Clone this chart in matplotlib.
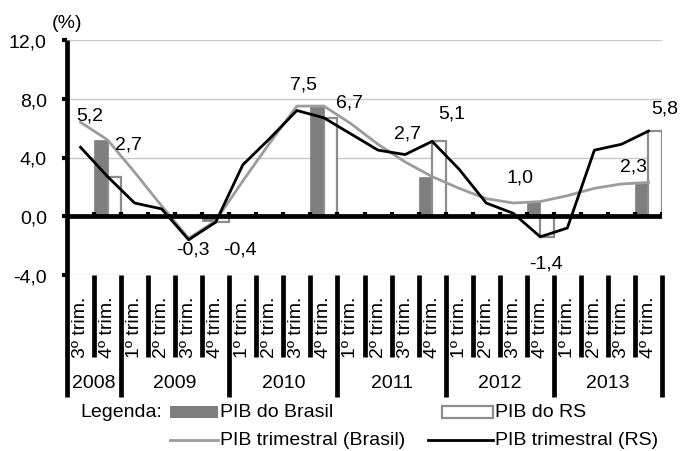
import numpy as np
import matplotlib
matplotlib.use("Agg")
import matplotlib.pyplot as plt
from matplotlib.transforms import blended_transform_factory
from matplotlib.lines import Line2D
from matplotlib.patches import Rectangle

plt.rcParams['font.family'] = ['Liberation Sans', 'DejaVu Sans']

# ---- data -------------------------------------------------------------
quarters = ["3º trim.", "4º trim."] + ["1º trim.", "2º trim.", "3º trim.", "4º trim."] * 5
years = ["2008", "2009", "2010", "2011", "2012", "2013"]
quarters_per_year = [2, 4, 4, 4, 4, 4]

# accumulated four-quarter growth (%)
pib_trim_brasil = [6.4, 5.2, 3.0, 0.7, -1.5, -0.3, 2.4, 5.0, 7.5, 7.5, 6.3, 4.9,
                   3.7, 2.7, 1.9, 1.2, 0.9, 1.0, 1.4, 1.9, 2.2, 2.3]
pib_trim_rs = [4.7, 2.7, 0.9, 0.5, -1.6, -0.4, 3.5, 5.3, 7.2, 6.7, 5.6, 4.5,
               4.2, 5.1, 3.2, 0.9, 0.2, -1.4, -0.8, 4.5, 4.9, 5.8]

# annual growth (%), shown in the 4th quarter of each year
pib_anual_brasil = [5.2, -0.3, 7.5, 2.7, 1.0, 2.3]
pib_anual_rs = [2.7, -0.4, 6.7, 5.1, -1.4, 5.8]

# value label placement (category units, %)
label_pos_brasil = [(0.85, 6.9), (4.66, -2.2), (8.76, 9.0), (12.6, 5.7), (16.75, 2.7), (20.96, 3.4)]
label_pos_rs = [(2.26, 4.95), (6.4, -2.2), (10.46, 7.75), (14.23, 7.05), (17.7, -3.2), (22.1, 7.35)]

# ---- styling ------------------------------------------------------------
W, H = 680, 452
FS = 14
BAR_FILL = '#7f7f7f'
BAR_EDGE = '#8c8c8c'
LINE_BR = '#9c9c9c'
GRID = '#c8c8c8'
AX_LW = 3.4


def fx(px):
    return px / W


def fy(py):
    return 1 - py / H


def fmt(v):
    return f"{v:.1f}".replace('.', ',')


fig = plt.figure(figsize=(W / 100, H / 100), dpi=100)
ax = fig.add_axes([fx(67), fy(276), fx(662) - fx(67), fy(41) - fy(276)])
n = len(quarters)
ax.set_xlim(0, n)
ax.set_ylim(-4, 12)
for s in ax.spines.values():
    s.set_visible(False)

x = np.arange(n) + 0.5

# gridlines and zero axis
ax.hlines([-4, 4, 8, 12], 0, n, color=GRID, lw=1, zorder=0)
ax.axhline(0, color='black', lw=AX_LW, zorder=5, solid_capstyle='butt')
ax.vlines(np.arange(1, n + 1), 0, 0.3, color='black', lw=3, zorder=5)

# annual bars in the last quarter of each year
year_end = np.cumsum(quarters_per_year) - 1
ax.bar(x[year_end] - 0.25, pib_anual_brasil, width=0.5, color=BAR_FILL,
       edgecolor=BAR_FILL, lw=0.5, zorder=2)
ax.bar(x[year_end] + 0.25, pib_anual_rs, width=0.5, facecolor='white',
       edgecolor=BAR_EDGE, lw=1.6, zorder=2)

# quarterly lines
ax.plot(x, pib_trim_brasil, color=LINE_BR, lw=2.0, zorder=3)
ax.plot(x, pib_trim_rs, color='black', lw=2.0, zorder=4)

# value labels
for (lx, ly), v in zip(label_pos_brasil, pib_anual_brasil):
    ax.text(lx, ly, fmt(v), ha='center', va='center', fontsize=FS, zorder=6)
for (lx, ly), v in zip(label_pos_rs, pib_anual_rs):
    ax.text(lx, ly, fmt(v), ha='center', va='center', fontsize=FS, zorder=6)

# y axis
yt = [-4, 0, 4, 8, 12]
ax.set_yticks(yt)
ax.set_yticklabels([fmt(v) for v in yt], fontsize=FS)
ax.tick_params(axis='y', direction='out', length=3.5, width=3, pad=11, color='black')
ax.set_xticks([])
fig.text(fx(67), fy(24), "(%)", ha='center', va='center', fontsize=FS)

trans = blended_transform_factory(ax.transData, fig.transFigure)
ax.plot([0, 0], [fy(41), fy(398)], transform=trans, clip_on=False,
        color='black', lw=AX_LW, solid_capstyle='butt', zorder=6)

# category table below the plot
year_bounds = set(np.concatenate([[0], np.cumsum(quarters_per_year)]).tolist())
for b in range(1, n + 1):
    bottom = 398 if b in year_bounds else 358
    ax.plot([b, b], [fy(276), fy(bottom)], transform=trans, clip_on=False,
            color='black', lw=AX_LW, solid_capstyle='butt')
for xi, q in zip(x, quarters):
    ax.text(xi, fy(358), q, rotation=90, ha='center', va='bottom',
            fontsize=FS, transform=trans)
starts = np.concatenate([[0], np.cumsum(quarters_per_year)[:-1]])
for s0, k, yr in zip(starts, quarters_per_year, years):
    ax.text(s0 + k / 2, fy(384), yr, ha='center', va='center',
            fontsize=FS, transform=trans)

# legend
r1, r2 = 413, 441
fig.text(fx(80), fy(r1), "Legenda:", ha='left', va='center', fontsize=FS)
fig.add_artist(Rectangle((fx(170), fy(419)), fx(48), fy(407) - fy(419),
                         transform=fig.transFigure, facecolor=BAR_FILL, edgecolor='none'))
fig.text(fx(220), fy(r1), "PIB do Brasil", ha='left', va='center', fontsize=FS)
fig.add_artist(Rectangle((fx(442), fy(419)), fx(51), fy(407) - fy(419),
                         transform=fig.transFigure, facecolor='white',
                         edgecolor=BAR_EDGE, lw=1.6))
fig.text(fx(495), fy(r1), "PIB do RS", ha='left', va='center', fontsize=FS)
fig.add_artist(Line2D([fx(170), fx(218)], [fy(r2), fy(r2)], transform=fig.transFigure,
                      color=LINE_BR, lw=2.0))
fig.text(fx(220), fy(r2), "PIB trimestral (Brasil)", ha='left', va='center', fontsize=FS)
fig.add_artist(Line2D([fx(428), fx(493)], [fy(r2), fy(r2)], transform=fig.transFigure,
                      color='black', lw=2.0))
fig.text(fx(495), fy(r2), "PIB trimestral (RS)", ha='left', va='center', fontsize=FS)

fig.savefig("out.png", dpi=100)
